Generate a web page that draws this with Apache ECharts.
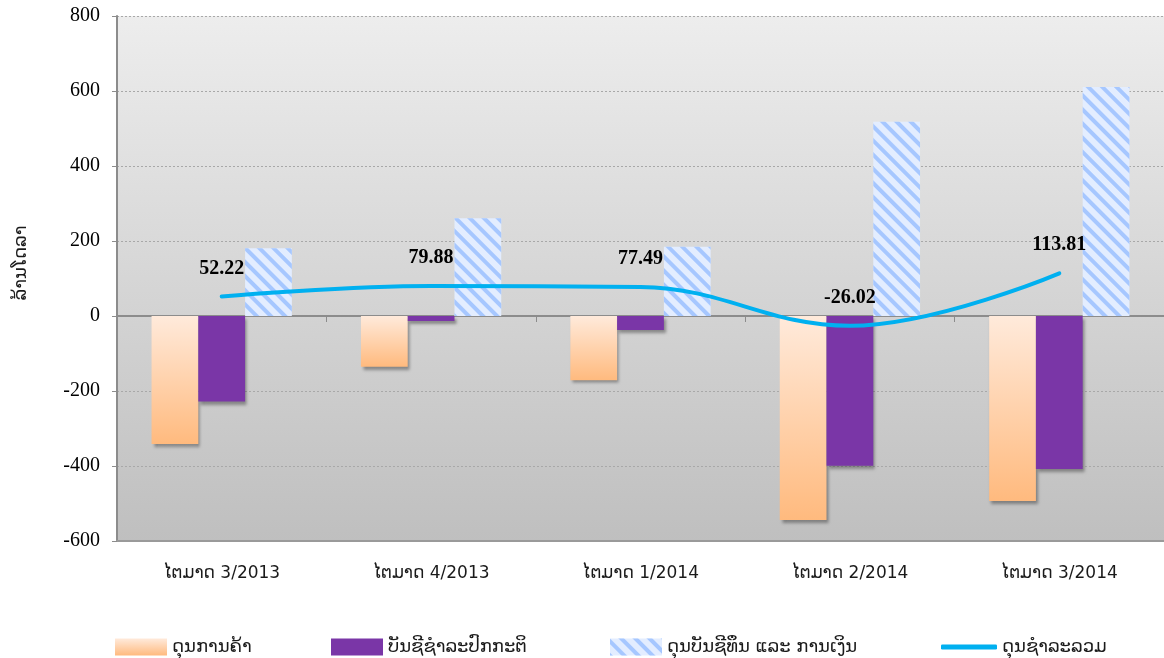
<!DOCTYPE html>
<html>
<head>
<meta charset="utf-8">
<script src="https://cdn.jsdelivr.net/npm/echarts@6/dist/echarts.min.js"></script>
<style>
  html, body { margin: 0; padding: 0; background: #fff; }
  #chart { width: 1164px; height: 658px; }
</style>
</head>
<body>
<div id="chart"></div>
<script>
// ข้อมูลดุลการชำระ (ล้านโดลา)
const quarters = ['ໄຕມາດ 3/2013', 'ໄຕມາດ 4/2013', 'ໄຕມາດ 1/2014', 'ໄຕມາດ 2/2014', 'ໄຕມາດ 3/2014'];
const tradeBalance = [-341, -135, -171, -544, -493];
const currentTransfers = [-228, -13, -37, -399, -408];
const capitalFinancial = [181, 261, 185, 518, 611];
const overallBalance = [52.22, 79.88, 77.49, -26.02, 113.81];
const seriesNames = ['ດຸນການຄ້າ', 'ບັນຊີຊຳລະປົກກະຕິ', 'ດຸນບັນຊີທຶນ ແລະ ການເງິນ', 'ດຸນຊຳລະລວມ'];

const laoFont = 'DejaVu Sans, Noto Sans, sans-serif';
const barShadow = {
  shadowBlur: 3,
  shadowColor: 'rgba(0,0,0,0.35)',
  shadowOffsetX: 2,
  shadowOffsetY: 3
};

const chart = echarts.init(document.getElementById('chart'), null, { renderer: 'canvas' });

const legendAt = (item, left, extra) => ({
  data: [item],
  left: left,
  top: 633,
  itemWidth: 52,
  itemHeight: 17,
  textStyle: { fontFamily: laoFont, fontSize: 18, color: '#1a1a1a' },
  ...extra
});

const option = {
  animation: false,
  backgroundColor: '#fff',
  grid: {
    left: 117, right: -10, top: 16, bottom: 117,
    show: true,
    borderWidth: 0,
    backgroundColor: new echarts.graphic.LinearGradient(0, 0, 0, 1, [
      { offset: 0, color: '#EDEDED' },
      { offset: 1, color: '#BFBFBF' }
    ])
  },
  legend: [
    legendAt({ name: seriesNames[0], icon: 'rect' }, 110),
    legendAt({ name: seriesNames[1], icon: 'rect' }, 326),
    legendAt({ name: seriesNames[2], icon: 'rect' }, 605),
    legendAt({ name: seriesNames[3], icon: 'roundRect' }, 936, { itemHeight: 5, itemWidth: 56 })
  ],
  graphic: [{
    type: 'text',
    x: 21, y: 263,
    rotation: Math.PI / 2,
    style: {
      text: 'ລ້ານໂດລາ',
      font: '18px ' + laoFont,
      fill: '#1a1a1a',
      textAlign: 'center',
      textVerticalAlign: 'middle'
    }
  }],
  xAxis: [
    {
      type: 'category',
      data: quarters,
      position: 'bottom',
      axisLine: { onZero: false, lineStyle: { color: '#9A9A9A', width: 2 } },
      axisTick: { show: false },
      axisLabel: { fontFamily: laoFont, fontSize: 17, color: '#1a1a1a', margin: 24 }
    },
    {
      type: 'category',
      data: quarters,
      position: 'top',
      axisLine: { onZero: true, lineStyle: { color: '#8C8C8C', width: 2 } },
      axisTick: { show: true, inside: true, length: 6, lineStyle: { color: '#8C8C8C' } },
      axisLabel: { show: false }
    }
  ],
  yAxis: {
    type: 'value',
    min: -600,
    max: 800,
    interval: 200,
    axisLine: { show: true, lineStyle: { color: '#8C8C8C', width: 2 } },
    axisTick: { show: true, length: 5, lineStyle: { color: '#8C8C8C' } },
    axisLabel: { fontFamily: 'Liberation Serif, serif', fontSize: 20, color: '#000', margin: 17 },
    splitLine: { lineStyle: { color: '#A8A8A8', type: [2, 2], width: 1 } }
  },
  series: [
    {
      name: seriesNames[0],
      type: 'bar',
      data: tradeBalance,
      barGap: '0%',
      barCategoryGap: '33%',
      itemStyle: {
        color: new echarts.graphic.LinearGradient(0, 0, 0, 1, [
          { offset: 0, color: '#FFEADB' },
          { offset: 1, color: '#FFBA7E' }
        ]),
        ...barShadow
      }
    },
    {
      name: seriesNames[1],
      type: 'bar',
      data: currentTransfers,
      itemStyle: { color: '#7A36A7', ...barShadow }
    },
    {
      name: seriesNames[2],
      type: 'bar',
      data: capitalFinancial,
      itemStyle: {
        color: '#E3EDFF',
        decal: {
          symbol: 'rect',
          color: '#A6C7FF',
          dashArrayX: [1, 0],
          dashArrayY: [4, 6],
          symbolSize: 1,
          rotation: Math.PI / 4
        }
      }
    },
    {
      name: seriesNames[3],
      type: 'line',
      data: overallBalance,
      smooth: 0.4,
      symbol: 'circle',
      symbolSize: 0,
      showSymbol: true,
      lineStyle: { color: '#00B0F0', width: 4, cap: 'round' },
      itemStyle: { color: '#00B0F0' },
      z: 5,
      label: {
        show: true,
        position: 'top',
        distance: 18,
        fontFamily: 'Liberation Serif, serif',
        fontWeight: 'bold',
        fontSize: 20,
        color: '#000',
        formatter: p => p.value.toFixed(2)
      }
    }
  ]
};

chart.setOption(option);
</script>
</body>
</html>
